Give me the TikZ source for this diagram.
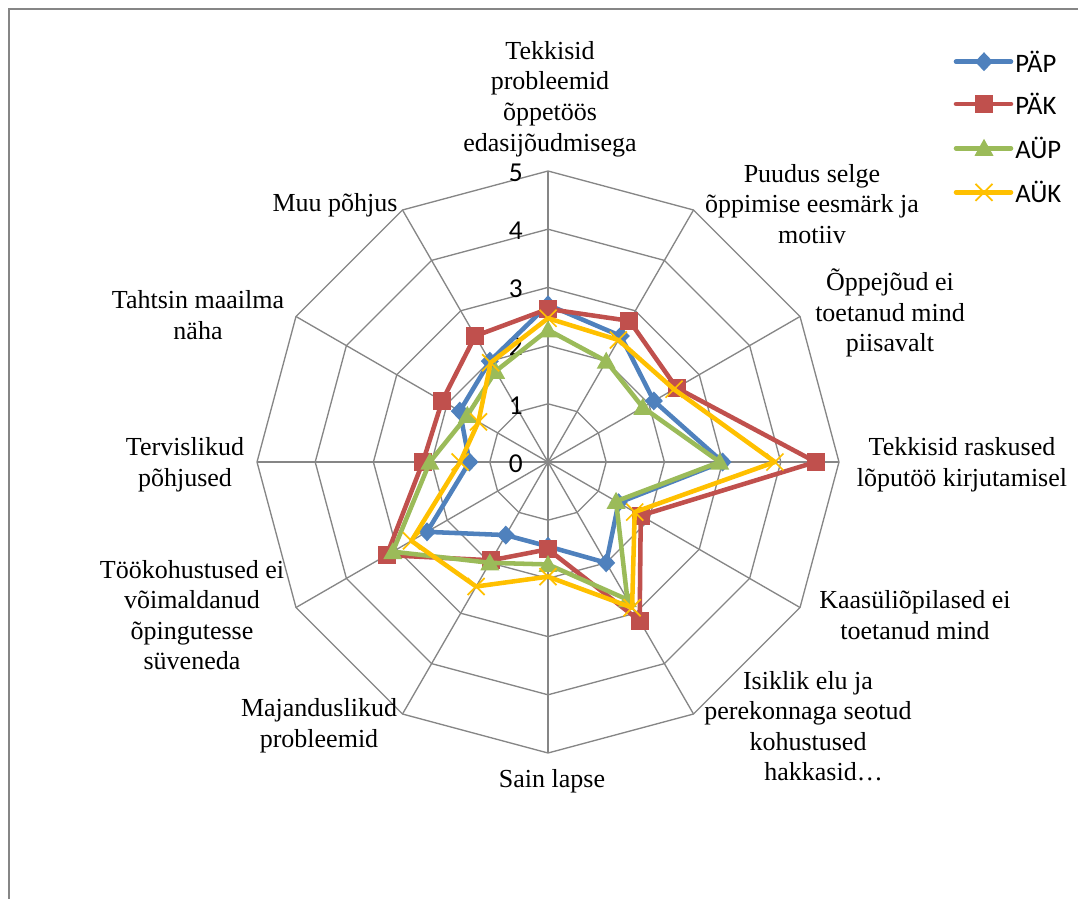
\documentclass[tikz,border=0pt]{standalone}
\usepackage{fontspec}
\setmainfont{Liberation Serif}
\newfontfamily\calib{Carlito}
\definecolor{cblue}{HTML}{4F81BD}
\definecolor{cred}{HTML}{C0504D}
\definecolor{cgreen}{HTML}{9BBB59}
\definecolor{cyel}{HTML}{FFC000}
\definecolor{cgrid}{HTML}{868686}
\tikzset{
  gridline/.style={draw=cgrid,line width=1pt},
  frameline/.style={draw=cgrid,line width=1.2pt},
  serie/.style={line width=3.4pt,line join=round,line cap=round},
  catlabel/.style={align=center,inner sep=0pt,font=\fontsize{19.5}{22.9}\selectfont},
  numlabel/.style={anchor=east,inner sep=0pt,font=\calib\fontsize{20.5}{22}\selectfont},
  leglabel/.style={anchor=west,inner sep=0pt,font=\calib\fontsize{20}{22}\selectfont},
}
\newcommand\rx[2]{{548+#2*58.2*sin(30*#1)}}
\newcommand\ry[2]{{462-#2*58.2*cos(30*#1)}}
\begin{document}
\begin{tikzpicture}[x=0.75pt,y=-0.75pt]
\useasboundingbox (0,0) rectangle (1078,899);
% frame
\coordinate (fbl) at (9,899);
\coordinate (ftl) at (9,9);
\coordinate (ftr) at (1078,9);
\draw[frameline] (fbl) -- (ftl) -- (ftr);
% grid
\coordinate (c) at (548,462);
\foreach \r in {1,...,5}{
  \draw[gridline] (\rx{0}{\r},\ry{0}{\r}) \foreach \k in {1,...,11}{ -- (\rx{\k}{\r},\ry{\k}{\r})} -- cycle;
}
\foreach \k in {0,...,11}{
  \coordinate (ax\k) at (\rx{\k}{5},\ry{\k}{5});
  \draw[gridline] (c) -- (ax\k);
}
% value labels
\foreach \v in {0,...,5}{
  \node[numlabel] (num\v) at (523,{463.5-\v*58.2}) {\v};
}
% data coordinates
\foreach \v [count=\k from 0] in {2.7,2.5,2.1,3.0,1.4,2.0,1.45,1.45,2.4,1.35,1.75,2.0}{
  \coordinate (A\k) at (\rx{\k}{\v},\ry{\k}{\v});}
\foreach \v [count=\k from 0] in {2.63,2.8,2.55,4.6,1.84,3.15,1.5,1.95,3.2,2.15,2.1,2.5}{
  \coordinate (B\k) at (\rx{\k}{\v},\ry{\k}{\v});}
\foreach \v [count=\k from 0] in {2.27,2.0,1.88,2.95,1.35,2.73,1.76,2.0,3.08,2.03,1.6,1.8}{
  \coordinate (C\k) at (\rx{\k}{\v},\ry{\k}{\v});}
\foreach \v [count=\k from 0] in {2.47,2.42,2.5,3.9,1.72,2.89,1.97,2.47,2.71,1.51,1.38,1.97}{
  \coordinate (D\k) at (\rx{\k}{\v},\ry{\k}{\v});}
% PÄP
\draw[serie,cblue] (A0) \foreach \k in {1,...,11}{ -- (A\k)} -- cycle;
\foreach \k in {0,...,11}{\fill[cblue,shift={(A\k)}] (0,-9.5) -- (9,0) -- (0,9.5) -- (-9,0) -- cycle;}
% PÄK
\draw[serie,cred] (B0) \foreach \k in {1,...,11}{ -- (B\k)} -- cycle;
\foreach \k in {0,...,11}{\fill[cred,shift={(B\k)}] (-9,-9) rectangle (9,9);}
% AÜP
\draw[serie,cgreen] (C0) \foreach \k in {1,...,11}{ -- (C\k)} -- cycle;
\foreach \k in {0,...,11}{\fill[cgreen,shift={(C\k)}] (-9.5,7.5) -- (0,-9.5) -- (9.5,7.5) -- cycle;}
% AÜK
\draw[serie,cyel] (D0) \foreach \k in {1,...,11}{ -- (D\k)} -- cycle;
\foreach \k in {0,...,11}{\draw[cyel,line width=1.3pt,shift={(D\k)}] (-8.5,-8.5) -- (8.5,8.5) (-8.5,8.5) -- (8.5,-8.5);}
% category labels
\node[catlabel] (l0) at (550,99) {Tekkisid\\probleemid\\õppetöös\\edasijõudmisega};
\node[catlabel] (l1) at (812,204) {Puudus selge\\õppimise eesmärk ja\\motiiv};
\node[catlabel] (l2) at (890,313) {Õppejõud ei\\toetanud mind\\piisavalt};
\node[catlabel] (l3) at (962,465) {Tekkisid raskused\\lõputöö kirjutamisel};
\node[catlabel] (l4) at (915,615) {Kaasüliõpilased ei\\toetanud mind};
\node[catlabel] (l5) at (808,726) {Isiklik elu ja\\perekonnaga seotud\\kohustused\\\hspace*{1.2em}hakkasid…};
\node[catlabel] (l6) at (552,781) {Sain lapse};
\node[catlabel] (l7) at (319,726) {Majanduslikud\\probleemid};
\node[catlabel] (l8) at (192,615) {Töökohustused ei\\võimaldanud\\õpingutesse\\süveneda};
\node[catlabel] (l9) at (185,465) {Tervislikud\\põhjused};
\node[catlabel] (l10) at (198,315) {Tahtsin maailma\\näha};
\node[catlabel] (l11) at (335,205) {Muu põhjus};
% legend
\foreach \n/\yy in {1/61.7,2/104,3/148.3,4/192.3}{
  \coordinate (lgs\n) at (956,\yy);
  \coordinate (lgm\n) at (984,\yy);
  \coordinate (lge\n) at (1011,\yy);
}
\draw[serie,cblue] (lgs1) -- (lge1);
\fill[cblue,shift={(lgm1)}] (0,-9.5) -- (9,0) -- (0,9.5) -- (-9,0) -- cycle;
\draw[serie,cred] (lgs2) -- (lge2);
\fill[cred,shift={(lgm2)}] (-9,-9) rectangle (9,9);
\draw[serie,cgreen] (lgs3) -- (lge3);
\fill[cgreen,shift={(lgm3)}] (-9.5,7.5) -- (0,-9.5) -- (9.5,7.5) -- cycle;
\draw[serie,cyel] (lgs4) -- (lge4);
\draw[cyel,line width=1.3pt,shift={(lgm4)}] (-8.5,-8.5) -- (8.5,8.5) (-8.5,8.5) -- (8.5,-8.5);
\node[leglabel] (t1) at (1015,61.7) {PÄP};
\node[leglabel] (t2) at (1015,104) {PÄK};
\node[leglabel] (t3) at (1015,148.3) {AÜP};
\node[leglabel] (t4) at (1015,192.3) {AÜK};
\end{tikzpicture}
\end{document}
